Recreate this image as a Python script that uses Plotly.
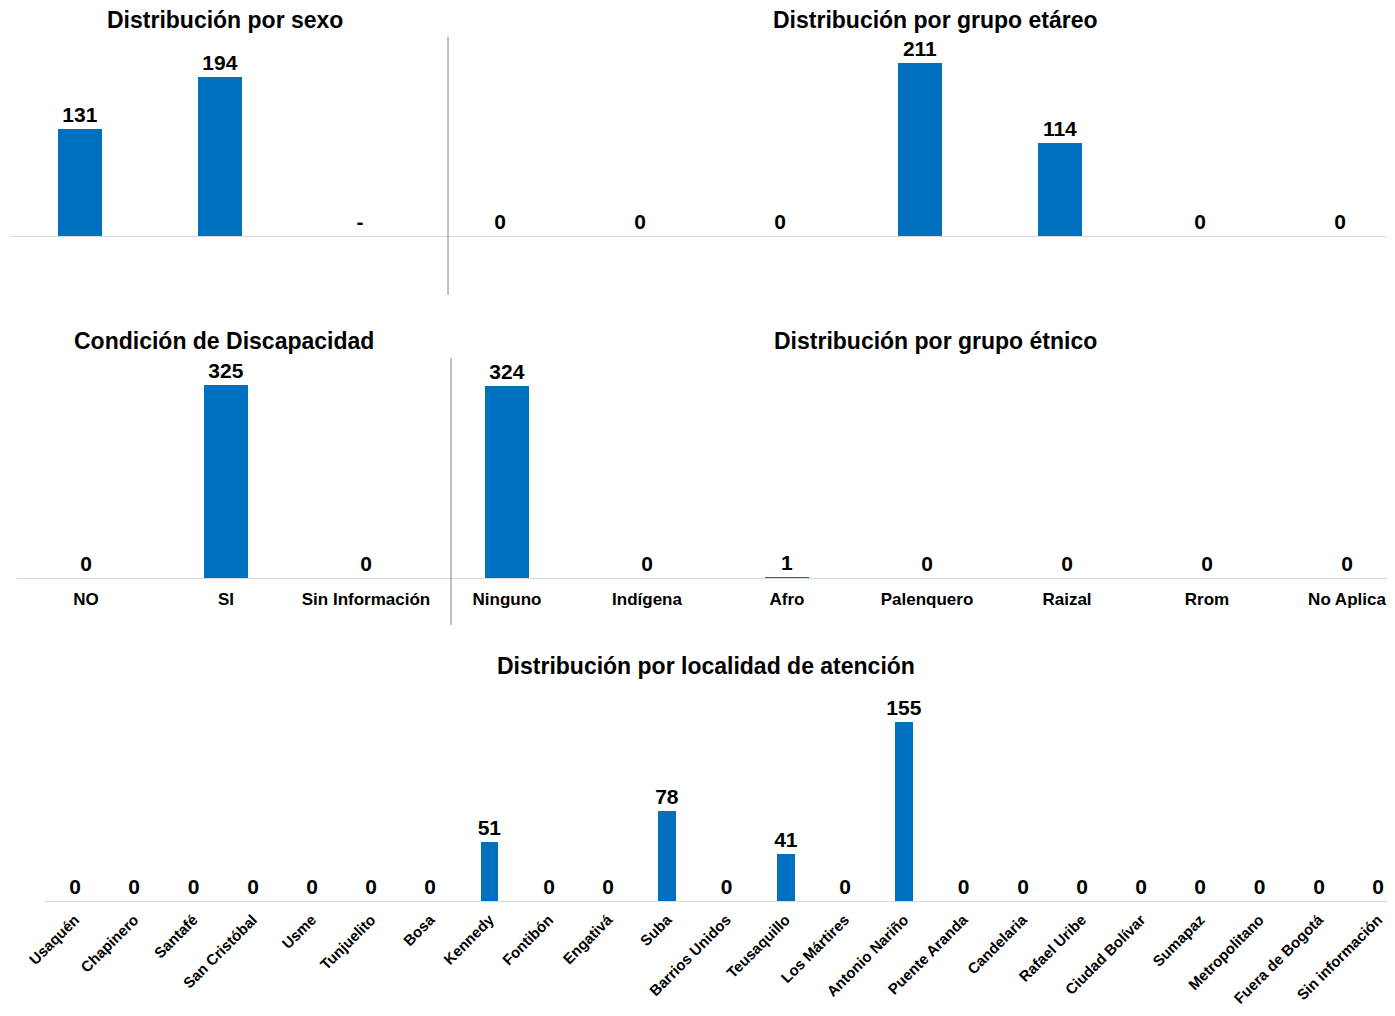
import plotly.graph_objects as go

# ---------------- data ----------------
sexo_cat = ["Hombre", "Mujer", "Intersexual"]
sexo_val = [131, 194, 0]
sexo_txt = ["131", "194", "-"]

edad_cat = ["G1", "G2", "G3", "G4", "G5", "G6", "G7"]
edad_val = [0, 0, 0, 211, 114, 0, 0]

disc_cat = ["NO", "SI", "Sin Información"]
disc_val = [0, 325, 0]

etn_cat = ["Ninguno", "Indígena", "Afro", "Palenquero", "Raizal", "Rrom", "No Aplica"]
etn_val = [324, 0, 1, 0, 0, 0, 0]

loc_cat = ["Usaquén", "Chapinero", "Santafé", "San Cristóbal", "Usme", "Tunjuelito",
           "Bosa", "Kennedy", "Fontibón", "Engativá", "Suba", "Barrios Unidos",
           "Teusaquillo", "Los Mártires", "Antonio Nariño", "Puente Aranda",
           "Candelaria", "Rafael Uribe", "Ciudad Bolívar", "Sumapaz",
           "Metropolitano", "Fuera de Bogotá", "Sin información"]
loc_val = [0, 0, 0, 0, 0, 0, 0, 51, 0, 0, 78, 0, 41, 0, 155, 0, 0, 0, 0, 0, 0, 0, 0]

titles = ["Distribución por sexo", "Distribución por grupo etáreo",
          "Condición de Discapacidad", "Distribución por grupo étnico",
          "Distribución por localidad de atención"]

# ---------------- layout helpers ----------------
OFF = 8                      # page body margin
W, H = 1395 - OFF, 1016 - 2 * OFF
BLUE = "#0070C0"
FONT = "Liberation Sans, Arial, sans-serif"

def px(x):
    return (x - OFF) / W

def py(y):
    return 1 - (y - OFF) / H

fig = go.Figure()

# panels: (id, cats, vals, texts, x_left, x_right, first_center, spacing, y_top, y_base, px_per_unit, width, showlabels, angle)
panels = [
    ("", sexo_cat, sexo_val, sexo_txt, 10, 448, 80, 140, 37, 236, 0.82, 0.314, False, 0),
    ("2", edad_cat, edad_val, [str(v) for v in edad_val], 448, 1395, 500, 140, 37, 236, 0.82, 0.314, False, 0),
    ("3", disc_cat, disc_val, [str(v) for v in disc_val], 17, 451, 86, 140, 358, 578, 0.5938, 0.314, True, 0),
    ("4", etn_cat, etn_val, [str(v) for v in etn_val], 451, 1395, 507, 140, 358, 578, 0.5938, 0.314, True, 0),
    ("5", loc_cat, loc_val, [str(v) for v in loc_val], 45, 1395, 75, (1378 - 75) / 22, 690, 901, 1.155, 0.30, True, -45),
]

for pid, cats, vals, txts, xl, xr, c0, s, yt, yb, ppu, bw, showlab, ang in panels:
    fig.add_trace(go.Bar(
        x=cats, y=vals, text=txts, textposition="outside",
        textfont=dict(family=FONT, size=21, color="#000000", weight="bold"),
        constraintext="none",
        marker=dict(color=BLUE, line=dict(width=0)),
        width=bw, cliponaxis=False, showlegend=False,
        xaxis="x" + pid, yaxis="y" + pid,
    ))
    xa = dict(
        domain=[px(xl), px(xr)], type="category",
        range=[(xl - c0) / s, (xr - c0) / s],
        anchor="y" + pid, showgrid=False, zeroline=False, automargin=False,
        showline=True, linecolor="#D9D9D9", linewidth=1.3,
        showticklabels=showlab, tickangle=ang,
        ticks="outside", ticklen=5 if ang == 0 else 3, tickcolor="rgba(0,0,0,0)",
        tickfont=dict(family=FONT, size=17 if ang == 0 else 15, color="#000000", weight="bold"),
        fixedrange=True,
    )
    ya = dict(
        domain=[py(yb), py(yt)], range=[0, (yb - yt) / ppu],
        anchor="x" + pid, visible=False, fixedrange=True, automargin=False,
    )
    fig.layout["xaxis" + pid] = xa
    fig.layout["yaxis" + pid] = ya

# title annotations
title_pos = [(225, 20), (935, 20), (224, 341), (935, 341), (706, 666)]
for t, (tx, ty) in zip(titles, title_pos):
    fig.add_annotation(
        text="<b>%s</b>" % t, x=px(tx), y=py(ty), xref="paper", yref="paper",
        showarrow=False, xanchor="center", yanchor="middle",
        font=dict(family=FONT, size=23, color="#000000"),
    )

# vertical dividers
for xv, y0, y1 in [(448, 37, 295), (451, 358, 625)]:
    fig.add_shape(type="line", xref="paper", yref="paper",
                  x0=px(xv), x1=px(xv), y0=py(y0), y1=py(y1),
                  line=dict(color="#808080", width=1))

fig.update_layout(
    width=W, height=H, autosize=False,
    margin=dict(l=0, r=0, t=0, b=0, pad=0),
    paper_bgcolor="white", plot_bgcolor="white",
    font=dict(family=FONT, color="#000000"),
    bargap=0,
)

fig.write_html("out.html")
